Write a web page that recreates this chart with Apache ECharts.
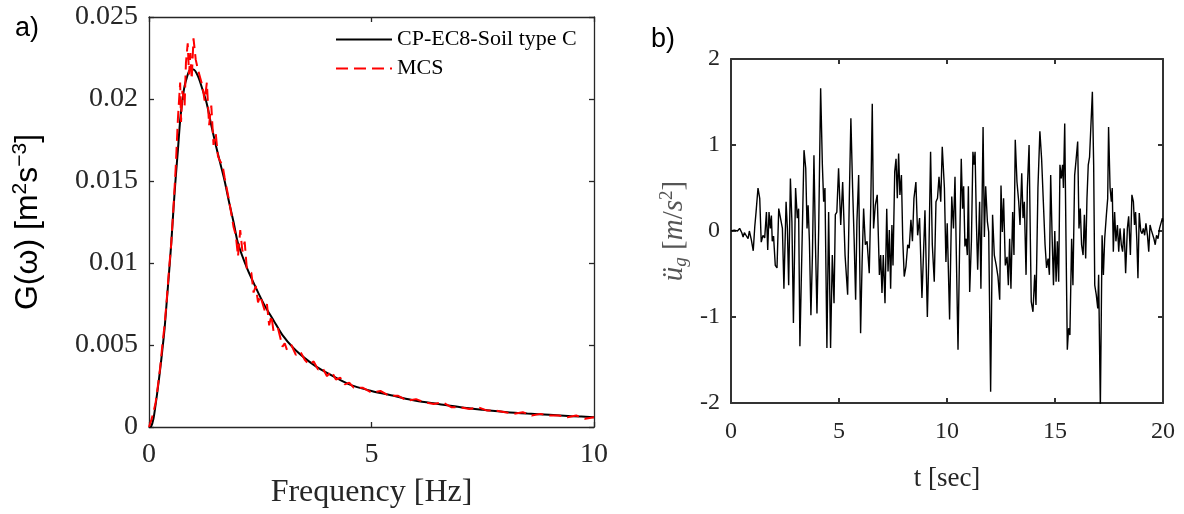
<!DOCTYPE html>
<html>
<head>
<meta charset="utf-8">
<script src="https://cdn.jsdelivr.net/npm/echarts@6/dist/echarts.min.js"></script>
<style>
html,body{margin:0;padding:0;background:#fff;}
#main{width:1184px;height:514px;}
</style>
</head>
<body>
<div id="main"></div>
<script>
// ---------- Panel a) data ----------
const freqCP = [0,0.05,0.1,0.15,0.2,0.25,0.3,0.35,0.4,0.45,0.5,0.55,0.6,0.65,0.7,0.75,0.8,0.85,0.9,0.95,1.0,1.1,1.2,1.3,1.4,1.5,1.6,1.7,1.8,1.9,2.0,2.2,2.4,2.6,2.8,3.0,3.25,3.5,3.75,4.0,4.5,5.0,5.5,6.0,6.5,7.0,7.5,8.0,8.5,9.0,9.5,10];
const cpVals = [0,0.00005,0.0005,0.0014,0.0024,0.0035,0.0047,0.006,0.0077,0.0094,0.0112,0.0133,0.0152,0.0169,0.0187,0.0199,0.0208,0.0213,0.0217,0.0218,0.0218,0.0214,0.0206,0.0197,0.0184,0.0172,0.0161,0.0150,0.0137,0.0125,0.0112,0.0097,0.0085,0.0074,0.0065,0.0056,0.0048,0.0042,0.0037,0.0033,0.0026,0.0022,0.0019,0.0016,0.0014,0.0012,0.00105,0.00092,0.00082,0.00074,0.00066,0.0006];

const freqMCS = [0,0.05,0.1,0.15,0.2,0.25,0.3,0.35,0.4,0.45,0.5,0.55,0.6,0.65,0.7,0.72,0.75,0.8,0.83,0.87,0.9,0.93,0.96,1.0,1.05,1.1,1.15,1.2,1.25,1.3,1.35,1.4,1.45,1.5,1.55,1.6,1.65,1.7,1.8,1.9,1.95,2.0,2.05,2.1,2.15,2.2,2.3,2.35,2.4,2.45,2.5,2.6,2.65,2.7,2.75,2.8,2.9,3.0,3.05,3.1,3.2,3.3,3.4,3.5,3.6,3.7,3.8,3.9,4.0,4.1,4.2,4.3,4.4,4.5,4.6,4.8,5.0,5.2,5.4,5.6,5.8,6.0,6.2,6.4,6.6,6.8,7.0,7.2,7.4,7.6,7.8,8.0,8.2,8.4,8.6,8.8,9.0,9.2,9.4,9.6,9.8,10];
const mcsVals = [0,0.0004,0.0009,0.0015,0.0025,0.0036,0.0050,0.0062,0.0078,0.0096,0.0112,0.0134,0.0158,0.0188,0.0210,0.0186,0.0205,0.0196,0.0222,0.0234,0.0215,0.0228,0.0212,0.0237,0.0224,0.0218,0.0213,0.0208,0.0199,0.0210,0.0184,0.0196,0.0172,0.0179,0.0165,0.0162,0.0160,0.0152,0.0138,0.0122,0.0117,0.0104,0.0120,0.0107,0.0113,0.0096,0.0094,0.0082,0.0086,0.0076,0.0080,0.0071,0.0075,0.0062,0.0068,0.0058,0.0060,0.0049,0.0051,0.0047,0.0050,0.0044,0.0046,0.0041,0.0038,0.0040,0.0035,0.0036,0.0031,0.0034,0.0029,0.0030,0.0026,0.0027,0.0024,0.0024,0.0021,0.0022,0.0019,0.0019,0.0016,0.0017,0.0015,0.0014,0.0015,0.0012,0.0012,0.0011,0.0012,0.0010,0.0010,0.0009,0.0008,0.0009,0.0007,0.0008,0.0007,0.0007,0.0006,0.0007,0.0005,0.0006];

// ---------- Panel b) data ----------
const timeSec = [0.00,0.15,0.30,0.40,0.50,0.56,0.62,0.70,0.79,0.85,0.94,1.03,1.10,1.16,1.25,1.33,1.40,1.48,1.56,1.64,1.70,1.76,1.82,1.87,1.91,1.97,2.05,2.13,2.21,2.30,2.38,2.45,2.55,2.61,2.67,2.75,2.82,2.89,2.99,3.07,3.13,3.19,3.38,3.46,3.52,3.57,3.63,3.70,3.77,3.84,3.91,3.98,4.06,4.15,4.23,4.29,4.35,4.44,4.52,4.61,4.69,4.77,4.83,4.90,4.98,5.08,5.17,5.28,5.40,5.48,5.55,5.63,5.70,5.77,5.83,5.91,6.00,6.07,6.14,6.22,6.30,6.40,6.47,6.54,6.60,6.68,6.77,6.87,6.93,6.99,7.05,7.13,7.21,7.27,7.33,7.39,7.45,7.50,7.58,7.64,7.70,7.76,7.82,7.89,7.95,8.02,8.10,8.18,8.25,8.33,8.40,8.47,8.56,8.64,8.73,8.84,8.91,8.98,9.09,9.16,9.24,9.32,9.41,9.49,9.56,9.63,9.71,9.78,9.88,9.95,10.01,10.12,10.22,10.30,10.37,10.43,10.51,10.58,10.66,10.72,10.77,10.83,10.89,10.94,10.99,11.05,11.13,11.20,11.25,11.30,11.36,11.42,11.51,11.57,11.67,11.73,11.79,11.87,11.93,12.02,12.11,12.19,12.28,12.36,12.44,12.50,12.56,12.62,12.70,12.78,12.84,12.90,12.96,13.04,13.10,13.16,13.24,13.32,13.38,13.46,13.52,13.58,13.66,13.72,13.80,13.86,13.90,13.98,14.06,14.12,14.21,14.30,14.38,14.46,14.54,14.61,14.68,14.74,14.80,14.87,14.93,14.99,15.05,15.11,15.17,15.23,15.29,15.35,15.39,15.45,15.51,15.57,15.63,15.69,15.77,15.83,15.91,15.97,16.05,16.11,16.17,16.23,16.30,16.36,16.42,16.48,16.54,16.60,16.67,16.73,16.79,16.84,16.91,16.98,17.02,17.10,17.18,17.24,17.30,17.38,17.44,17.48,17.55,17.61,17.65,17.70,17.76,17.82,17.89,17.95,18.01,18.07,18.13,18.20,18.27,18.35,18.41,18.49,18.56,18.63,18.68,18.73,18.79,18.84,18.90,18.97,19.03,19.09,19.15,19.21,19.28,19.34,19.40,19.46,19.52,19.58,19.64,19.70,19.77,19.84,19.91,19.97,20.00];
const accel = [0.00,0.01,0.00,0.03,-0.02,-0.07,-0.02,-0.04,-0.09,0.00,-0.10,-0.23,0.05,0.22,0.50,0.38,-0.13,-0.05,-0.08,0.22,-0.22,0.22,0.03,0.18,-0.12,-0.06,-0.40,-0.43,0.26,0.26,0.03,-0.67,0.34,0.03,-0.63,0.61,0.11,-1.07,0.50,0.15,0.26,-1.34,0.94,0.73,0.03,0.30,-0.12,-0.98,-0.28,0.88,-0.15,-0.96,0.03,1.66,0.77,0.34,0.50,-1.36,0.22,-1.36,-0.28,-0.84,0.19,0.22,0.73,0.07,0.57,-0.28,-0.74,0.42,1.31,0.50,-0.09,-0.80,0.11,0.65,-1.19,-0.36,0.26,-0.16,-0.12,-0.49,0.30,1.48,0.03,0.30,0.42,-0.51,-0.28,-0.72,-0.28,-0.84,0.26,-0.47,0.01,-0.67,0.07,-0.40,0.69,0.84,0.38,0.90,0.42,0.65,-0.09,-0.53,-0.41,-0.16,-0.20,0.13,-0.12,0.38,0.57,-0.05,0.15,-0.78,-0.28,0.24,-1.00,-0.28,0.92,-0.16,-0.59,0.34,0.38,0.63,0.34,0.98,0.50,-0.36,0.09,-1.03,0.40,0.03,0.63,-0.24,-1.38,-0.24,0.84,0.26,0.52,-0.18,-0.09,-0.28,0.52,-0.71,-0.12,0.92,0.77,0.92,0.11,-0.45,0.34,-0.67,1.21,-0.07,0.52,0.11,-0.01,-1.87,0.19,-0.28,-0.40,-0.53,-0.80,0.53,-0.01,0.38,-0.40,-0.30,-0.63,-0.09,-0.67,0.22,-0.28,1.06,0.57,0.34,0.07,0.67,0.15,0.34,-0.51,0.50,1.00,-0.12,-0.82,-0.94,-0.51,-0.86,0.50,1.16,0.84,0.34,-0.16,-0.43,-0.32,-0.51,0.65,-0.10,-0.63,0.00,-0.59,-0.12,-0.59,0.77,0.61,0.77,0.50,1.25,-0.12,-1.38,-1.13,-1.21,-0.09,-0.63,0.65,0.81,1.04,0.03,0.26,-0.16,-0.28,0.19,-0.32,0.38,0.77,0.86,1.27,1.62,0.77,-0.63,-0.74,-0.90,-0.51,-2.05,-0.05,-0.51,-0.09,0.19,0.38,1.21,0.50,0.34,0.50,-0.24,0.22,-0.12,0.07,-0.24,0.03,-0.16,-0.24,0.03,-0.49,0.03,0.17,-0.28,0.42,0.34,0.07,0.22,-0.12,-0.55,0.21,0.00,-0.03,0.03,-0.05,0.09,-0.05,-0.24,0.07,0.01,0.03,-0.09,-0.16,-0.05,-0.09,0.03,0.01,0.15,0.11];

// ---------- Ticks ----------
const xTicksA = [0,5,10];
const yTicksA = [0,0.005,0.01,0.015,0.02,0.025];
const xTicksB = [0,5,10,15,20];
const yTicksB = [-2,-1,0,1,2];

const seriesNames = ['CP-EC8-Soil type C','MCS'];

const zip = (a,b) => a.map((v,i)=>[v,b[i]]);
const fmtA = v => String(+(+v).toFixed(4));

const serif = 'Liberation Serif';
const sans = 'Liberation Sans';

function mkAxis(gridIndex, ticks, opts) {
  const base = {
    type:'value', gridIndex,
    min: ticks[0], max: ticks[ticks.length-1], interval: ticks[1]-ticks[0],
    splitLine:{show:false},
    axisLine:{show:true, onZero:false, lineStyle:{color:opts.color, width:opts.width}},
    axisTick:{show:true, inside:true, length:opts.tick, lineStyle:{color:opts.color, width:opts.width}},
    axisLabel:{show:opts.labels, color:'#262626', fontFamily:serif, fontSize:opts.fs, margin:opts.margin, formatter: opts.formatter},
  };
  return Object.assign(base, opts.extra || {});
}

const cA = '#262626', wA = 1.3;
const cB = '#333333', wB = 2;

// legend icons: solid and dashed line segments
const solidIcon = 'path://M0,0H56V2H0Z';
const dashIcon = 'path://M0,0H12V2H0Z M18,0H30V2H18Z M36,0H48V2H36Z M54,0H56V2H54Z';

const option = {
  animation:false,
  backgroundColor:'#ffffff',
  title:[
    {text:'a)', left:10, top:10, textStyle:{fontFamily:sans, fontWeight:'normal', fontSize:27, color:'#000'}},
    {text:'b)', left:646, top:21, textStyle:{fontFamily:sans, fontWeight:'normal', fontSize:27, color:'#000'}}
  ],
  grid:[
    {left:149, top:17, width:445, height:410},
    {left:731, top:59, width:432, height:344}
  ],
  legend:{
    show:true, orient:'vertical', left:331, top:23,
    itemWidth:56, itemHeight:2, itemGap:6, symbolKeepAspect:false,
    data: [
      {name:seriesNames[0], icon:solidIcon},
      {name:seriesNames[1], icon:dashIcon}
    ],
    textStyle:{fontFamily:serif, fontSize:22, color:'#000', lineHeight:23},
    selectedMode:false
  },
  xAxis:[
    mkAxis(0, xTicksA, {color:cA, width:wA, tick:5, labels:true, fs:28, margin:14, formatter:fmtA,
      extra:{position:'bottom', name:'Frequency [Hz]', nameLocation:'middle', nameGap:50,
        nameTextStyle:{fontFamily:serif, fontSize:32, color:'#262626'}}}),
    mkAxis(0, xTicksA, {color:cA, width:wA, tick:5, labels:false, extra:{position:'top'}}),
    mkAxis(1, xTicksB, {color:cB, width:wB, tick:5, labels:true, fs:24, margin:17, formatter:fmtA,
      extra:{position:'bottom', name:'t [sec]', nameLocation:'middle', nameGap:62,
        nameTextStyle:{fontFamily:serif, fontSize:27, color:'#262626'}}}),
    mkAxis(1, xTicksB, {color:cB, width:wB, tick:5, labels:false, extra:{position:'top'}})
  ],
  yAxis:[
    mkAxis(0, yTicksA, {color:cA, width:wA, tick:5, labels:true, fs:28, margin:11, formatter:fmtA,
      extra:{position:'left',
        name:'{t|G(\u03c9) [m}{s|2}{t|s}{s|\u22123}{t|]}',
        nameLocation:'middle', nameGap:103, nameRotate:90,
        nameTextStyle:{fontFamily:sans, fontSize:32, color:'#000', lineHeight:36,
          rich:{
            t:{fontFamily:sans, fontSize:32, color:'#000', lineHeight:36},
            s:{fontFamily:sans, fontSize:21, color:'#000', lineHeight:21, verticalAlign:'top'}
          }}}}),
    mkAxis(0, yTicksA, {color:cA, width:wA, tick:5, labels:false, extra:{position:'right'}}),
    mkAxis(1, yTicksB, {color:cB, width:wB, tick:5, labels:true, fs:24, margin:11, formatter:fmtA,
      extra:{position:'left',
        name:'{i|\u00fc}{sub|g}{r| [}{i|m}{r|/}{i|s}{sup|2}{r|]}',
        nameLocation:'middle', nameGap:41, nameRotate:90,
        nameTextStyle:{color:'#555', fontFamily:serif, fontSize:28, lineHeight:32,
          rich:{
            i:{fontFamily:serif, fontStyle:'italic', fontSize:29, color:'#555', lineHeight:32},
            r:{fontFamily:serif, fontSize:29, color:'#555', lineHeight:32},
            sub:{fontFamily:serif, fontStyle:'italic', fontSize:19, color:'#555', lineHeight:19, verticalAlign:'bottom'},
            sup:{fontFamily:serif, fontSize:19, color:'#555', lineHeight:19, verticalAlign:'top'}
          }}}}),
    mkAxis(1, yTicksB, {color:cB, width:wB, tick:5, labels:false, extra:{position:'right'}})
  ],
  series:[
    {name:seriesNames[0], type:'line', xAxisIndex:0, yAxisIndex:0, data:zip(freqCP,cpVals),
      smooth:0.3, symbol:'none', showSymbol:false, lineStyle:{color:'#000', width:2}, itemStyle:{color:'#000'}, z:2},
    {name:seriesNames[1], type:'line', xAxisIndex:0, yAxisIndex:0, data:zip(freqMCS,mcsVals),
      symbol:'none', showSymbol:false, lineStyle:{color:'#ff0000', width:2, type:[12,6]}, itemStyle:{color:'#ff0000'}, z:3},
    {name:'accel', type:'line', xAxisIndex:2, yAxisIndex:2, data:zip(timeSec,accel),
      symbol:'none', showSymbol:false, clip:true, lineStyle:{color:'#000', width:1.4}, z:2}
  ]
};

const chart = echarts.init(document.getElementById('main'), null, {renderer:'canvas'});
chart.setOption(option);
</script>
</body>
</html>
